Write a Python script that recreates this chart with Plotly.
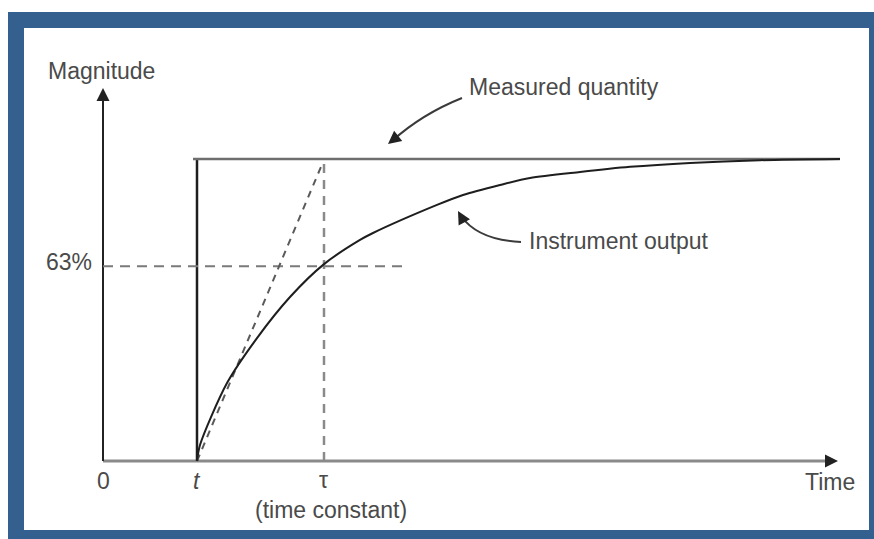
import plotly.graph_objects as go

# ---- data (time in arbitrary units, magnitude as fraction of final value) ----
step_time = 0.94          # instant t when the step is applied
time_constant_end = 2.21  # t + tau
final_time = 7.37
level_63 = 0.645
level_63_end = 2.99

output_time = [0.94, 0.97, 1.24, 1.54, 1.87, 2.21, 2.57, 2.70, 3.34, 3.60, 3.97, 4.27, 4.77, 5.27, 5.87, 6.57, 7.37]
output_mag = [0.0, 0.053, 0.258, 0.407, 0.543, 0.652, 0.732, 0.755, 0.848, 0.881, 0.914, 0.937, 0.957, 0.974, 0.987, 0.996, 1.0]

x_axis_end = 7.35
y_axis_end = 1.235

W, H = 874, 539
X0PX, Y0PX, XS, YS = 103, 461, 100.0, 302.0


def px2x(px):
    return (px - X0PX) / XS


def py2y(py):
    return (Y0PX - py) / YS


BLUE = "#33608f"
TXT = "#4a4a4a"
FONT = "Liberation Sans, Arial, sans-serif"

fig = go.Figure()

# axes lines
fig.add_trace(go.Scatter(x=[0, x_axis_end - 0.05], y=[0, 0], mode="lines",
                         line=dict(color="#8a8a8a", width=3), hoverinfo="skip"))
fig.add_trace(go.Scatter(x=[0, 0], y=[0, y_axis_end - 0.03], mode="lines",
                         line=dict(color="#222222", width=2), hoverinfo="skip"))

# measured quantity (step)
fig.add_trace(go.Scatter(x=[step_time, step_time], y=[0, 1], mode="lines",
                         line=dict(color="#1e1e1e", width=2.5), hoverinfo="skip"))
fig.add_trace(go.Scatter(x=[step_time - 0.04, final_time], y=[1, 1], mode="lines",
                         line=dict(color="#6e6e6e", width=2.5), hoverinfo="skip"))

# dashed guides
fig.add_trace(go.Scatter(x=[0, level_63_end], y=[level_63, level_63], mode="lines",
                         line=dict(color="#7a7a7a", width=2, dash="10px,7px"), hoverinfo="skip"))
fig.add_trace(go.Scatter(x=[time_constant_end, time_constant_end], y=[0, 1], mode="lines",
                         line=dict(color="#8a8a8a", width=2.5, dash="9px,7px"), hoverinfo="skip"))
fig.add_trace(go.Scatter(x=[step_time, time_constant_end - 0.01], y=[0, 0.99], mode="lines",
                         line=dict(color="#5a5a5a", width=2, dash="7px,6px"), hoverinfo="skip"))

# instrument output
fig.add_trace(go.Scatter(x=output_time, y=output_mag, mode="lines",
                         line=dict(color="#1e1e1e", width=2, shape="spline", smoothing=0.8),
                         hoverinfo="skip"))

shapes = [
    dict(type="rect", xref="paper", yref="paper", x0=8 / W, x1=1.02, y0=-0.02, y1=1 - 12 / H,
         fillcolor=BLUE, line=dict(width=0), layer="below"),
    dict(type="rect", xref="paper", yref="paper", x0=24 / W, x1=869 / W, y0=1 - 530 / H, y1=1 - 28 / H,
         fillcolor="white", line=dict(width=0), layer="below"),
    dict(type="path", xref="x", yref="y",
         path=f"M {px2x(462)},{py2y(98)} Q {px2x(422)},{py2y(114)} {px2x(392)},{py2y(141)}",
         line=dict(color="#3a3a3a", width=2)),
    dict(type="path", xref="x", yref="y",
         path=f"M {px2x(521)},{py2y(242)} Q {px2x(478)},{py2y(240)} {px2x(461)},{py2y(216)}",
         line=dict(color="#3a3a3a", width=2)),
]

ann = []


def txt(s, px, py, size=23, xanchor="center", italic=False):
    ann.append(dict(text=(f"<i>{s}</i>" if italic else s), x=px2x(px), y=py2y(py), xref="x", yref="y",
                    showarrow=False, xanchor=xanchor, yanchor="middle",
                    font=dict(family=FONT, size=size, color=TXT)))


def head(px, py, dx, dy, color="#222222", size=1.3, width=2):
    ann.append(dict(text="", x=px2x(px), y=py2y(py), xref="x", yref="y", showarrow=True,
                    ax=dx, ay=dy, arrowhead=2, arrowsize=size, arrowwidth=width, arrowcolor=color))


txt("Magnitude", 101, 71)
txt("63%", 94, 262, xanchor="right")
txt("0", 103, 481)
txt("t", 197, 481, italic=True)
txt("τ", 323, 480)
txt("(time constant)", 331, 510)
txt("Time", 830, 482)
txt("Measured quantity", 564, 87)
txt("Instrument output", 619, 241)

head(838, 461, -12, 0)
head(103, 88, 0, 12)
head(388, 144, 10, -8)
head(458, 211, 5, 9)

fig.update_layout(
    width=W, height=H, autosize=False,
    margin=dict(l=0, r=0, t=0, b=0, pad=0),
    paper_bgcolor="white", plot_bgcolor="rgba(0,0,0,0)",
    showlegend=False,
    xaxis=dict(range=[px2x(0), px2x(W)], visible=False, fixedrange=True),
    yaxis=dict(range=[py2y(H), py2y(0)], visible=False, fixedrange=True),
    shapes=shapes, annotations=ann,
)

fig.write_html(
    "out.html",
    config={"displayModeBar": False},
    post_script="document.body.style.margin='0';document.body.style.overflow='hidden';"
                "document.documentElement.style.overflow='hidden';",
)
